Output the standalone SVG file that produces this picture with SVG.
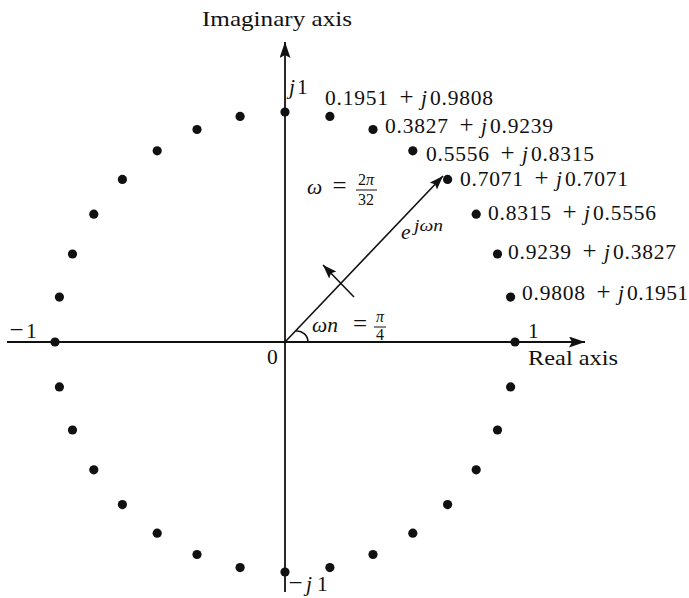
<svg xmlns="http://www.w3.org/2000/svg" width="689" height="598" viewBox="0 0 689 598">
<style>
text{font-family:"Liberation Serif","DejaVu Serif","Noto Serif","Times New Roman",serif;font-size:21.5px;fill:#111}
.s{font-size:16px}
.o{font-size:25px}
.i{font-style:italic}
.m{text-anchor:middle}
.ax{stroke:#111;stroke-width:1.8;fill:none}
.ln{stroke:#111;stroke-width:1.6;fill:none}
.bar{stroke:#111;stroke-width:1}
.dot{fill:#111}
</style>
<defs>
<marker id="ah" markerWidth="17" markerHeight="12" refX="16" refY="5.5" orient="auto" markerUnits="userSpaceOnUse"><path d="M0,0 L16,5.5 L0,11 L3,5.5 z" fill="#111"/></marker>
<marker id="ah2" markerWidth="15" markerHeight="11" refX="14" refY="5" orient="auto" markerUnits="userSpaceOnUse"><path d="M0,0 L14,5 L0,10 L2.5,5 z" fill="#111"/></marker>
</defs>
<g id="connectors">
<line class="ax" x1="7" y1="342" x2="585" y2="342" marker-end="url(#ah)"/>
<line class="ax" x1="285" y1="592" x2="285" y2="42" marker-end="url(#ah)"/>
<line class="ln" x1="285" y1="342" x2="443" y2="176" marker-end="url(#ah2)"/>
<line class="ln" x1="354" y1="297" x2="323" y2="265" marker-end="url(#ah2)"/>
<path class="ln" d="M308,342 A11,11 0 0 0 296,331"/>
</g>
<g id="points">
<circle class="dot" cx="515" cy="342" r="4.6"/>
<circle class="dot" cx="510.6" cy="297.1" r="4.6"/>
<circle class="dot" cx="497.5" cy="254" r="4.6"/>
<circle class="dot" cx="476.2" cy="214.2" r="4.6"/>
<circle class="dot" cx="447.6" cy="179.4" r="4.6"/>
<circle class="dot" cx="412.8" cy="150.8" r="4.6"/>
<circle class="dot" cx="373" cy="129.5" r="4.6"/>
<circle class="dot" cx="329.9" cy="116.4" r="4.6"/>
<circle class="dot" cx="285" cy="112" r="4.6"/>
<circle class="dot" cx="240.1" cy="116.4" r="4.6"/>
<circle class="dot" cx="197" cy="129.5" r="4.6"/>
<circle class="dot" cx="157.2" cy="150.8" r="4.6"/>
<circle class="dot" cx="122.4" cy="179.4" r="4.6"/>
<circle class="dot" cx="93.8" cy="214.2" r="4.6"/>
<circle class="dot" cx="72.5" cy="254" r="4.6"/>
<circle class="dot" cx="59.4" cy="297.1" r="4.6"/>
<circle class="dot" cx="55" cy="342" r="4.6"/>
<circle class="dot" cx="59.4" cy="386.9" r="4.6"/>
<circle class="dot" cx="72.5" cy="430" r="4.6"/>
<circle class="dot" cx="93.8" cy="469.8" r="4.6"/>
<circle class="dot" cx="122.4" cy="504.6" r="4.6"/>
<circle class="dot" cx="157.2" cy="533.2" r="4.6"/>
<circle class="dot" cx="197" cy="554.5" r="4.6"/>
<circle class="dot" cx="240.1" cy="567.6" r="4.6"/>
<circle class="dot" cx="285" cy="572" r="4.6"/>
<circle class="dot" cx="329.9" cy="567.6" r="4.6"/>
<circle class="dot" cx="373" cy="554.5" r="4.6"/>
<circle class="dot" cx="412.8" cy="533.2" r="4.6"/>
<circle class="dot" cx="447.6" cy="504.6" r="4.6"/>
<circle class="dot" cx="476.2" cy="469.8" r="4.6"/>
<circle class="dot" cx="497.5" cy="430" r="4.6"/>
<circle class="dot" cx="510.6" cy="386.9" r="4.6"/>
</g>
<g id="axis-labels">
<text x="202" y="26" font-size="21" textLength="150" lengthAdjust="spacingAndGlyphs">Imaginary axis</text>
<text x="528" y="365" font-size="21" textLength="90" lengthAdjust="spacingAndGlyphs">Real axis</text>
<text x="289" y="94" class="i">j</text><text x="297" y="94">1</text>
<text x="16.5" y="338" class="o m">−</text><text x="26" y="338">1</text>
<text x="528" y="338">1</text>
<text x="267" y="364">0</text>
<text x="295.5" y="591" class="o m">−</text><text x="306" y="591" class="i">j</text><text x="317" y="591">1</text>
</g>
<g id="point-labels">
<text x="325" y="105" textLength="63">0.1951</text><text x="406.5" y="105" class="o m">+</text><text x="421" y="105" class="i">j</text><text x="430" y="105" textLength="63">0.9808</text>
<text x="385" y="133" textLength="63">0.3827</text><text x="466.5" y="133" class="o m">+</text><text x="481" y="133" class="i">j</text><text x="490" y="133" textLength="63">0.9239</text>
<text x="426" y="161" textLength="63">0.5556</text><text x="507.5" y="161" class="o m">+</text><text x="522" y="161" class="i">j</text><text x="531" y="161" textLength="63">0.8315</text>
<text x="460" y="186" textLength="63">0.7071</text><text x="541.5" y="186" class="o m">+</text><text x="556" y="186" class="i">j</text><text x="565" y="186" textLength="63">0.7071</text>
<text x="488" y="220" textLength="63">0.8315</text><text x="569.5" y="220" class="o m">+</text><text x="584" y="220" class="i">j</text><text x="593" y="220" textLength="63">0.5556</text>
<text x="508" y="259" textLength="63">0.9239</text><text x="589.5" y="259" class="o m">+</text><text x="604" y="259" class="i">j</text><text x="613" y="259" textLength="63">0.3827</text>
<text x="522" y="300" textLength="63">0.9808</text><text x="603.5" y="300" class="o m">+</text><text x="618" y="300" class="i">j</text><text x="627" y="300" textLength="61">0.1951</text>
</g>
<g id="math-labels">
<text x="307" y="194" class="i" font-size="23">ω</text>
<text x="339.5" y="194" class="o m">=</text>
<text x="366" y="185" class="s m">2<tspan class="i">π</tspan></text>
<line class="bar" x1="356" y1="190" x2="377" y2="190"/>
<text x="366" y="205" class="s m">32</text>
<text x="401" y="239" class="i" font-size="22">e</text>
<text x="414" y="231" class="s i" textLength="29" lengthAdjust="spacingAndGlyphs">jωn</text>
<text x="312" y="332" class="i" font-size="22">ωn</text>
<text x="360" y="332" class="o m">=</text>
<text x="380" y="322" class="s i m">π</text>
<line class="bar" x1="374" y1="327" x2="386" y2="327"/>
<text x="380" y="340" class="s m">4</text>
</g>
</svg>
